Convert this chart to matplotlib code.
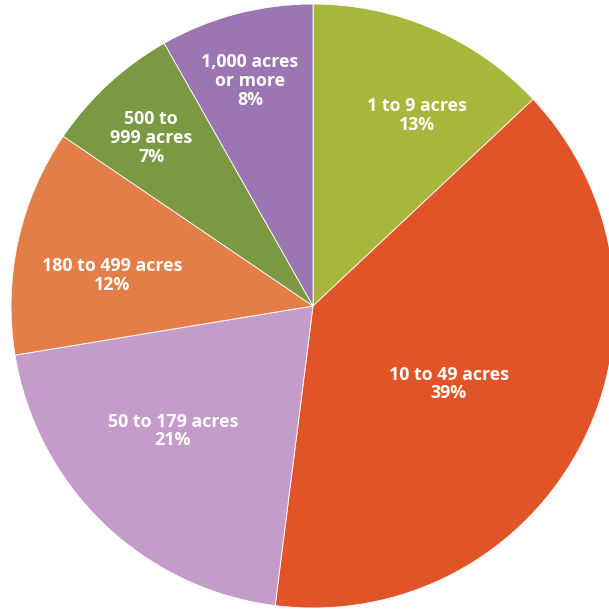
import matplotlib
matplotlib.use("Agg")
import matplotlib.pyplot as plt

# farm size shares, clockwise from 12 o'clock (wedge sizes)
categories = ["1 to 9 acres", "10 to 49 acres", "50 to 179 acres",
              "180 to 499 acres", "500 to\n999 acres", "1,000 acres\nor more"]
shares = [13.0, 39.0, 20.4, 12.1, 7.3, 8.2]
pct_labels = ["13%", "39%", "21%", "12%", "7%", "8%"]
colors = ["#A8B73B", "#E05428", "#C49CC9", "#E37E48", "#7B9843", "#9B76B3"]

# label anchors in pie units (radius = 1)
label_xy = [(0.344, 0.630), (0.450, -0.258), (-0.464, -0.414),
            (-0.666, 0.100), (-0.536, 0.556), (-0.209, 0.745)]

fig = plt.figure(figsize=(6.09, 6.09), dpi=100)
ax = fig.add_axes([0, 0, 1, 1])

ax.pie(shares, colors=colors, startangle=90, counterclock=False,
       radius=1.0, center=(0, 0),
       wedgeprops=dict(edgecolor="white", linewidth=0.6))

for cat, pct, (x, y) in zip(categories, pct_labels, label_xy):
    ax.text(x, y, f"{cat}\n{pct}", ha="center", va="center",
            color="white", fontsize=12.8, fontweight="bold",
            family="Open Sans", linespacing=1.05)

ax.set_xlim(-313 / 302, (609 - 313) / 302)
ax.set_ylim(-(609 - 306) / 302, 306 / 302)
ax.set_aspect("equal")
ax.axis("off")

fig.savefig("out.png", dpi=100, facecolor="white")
